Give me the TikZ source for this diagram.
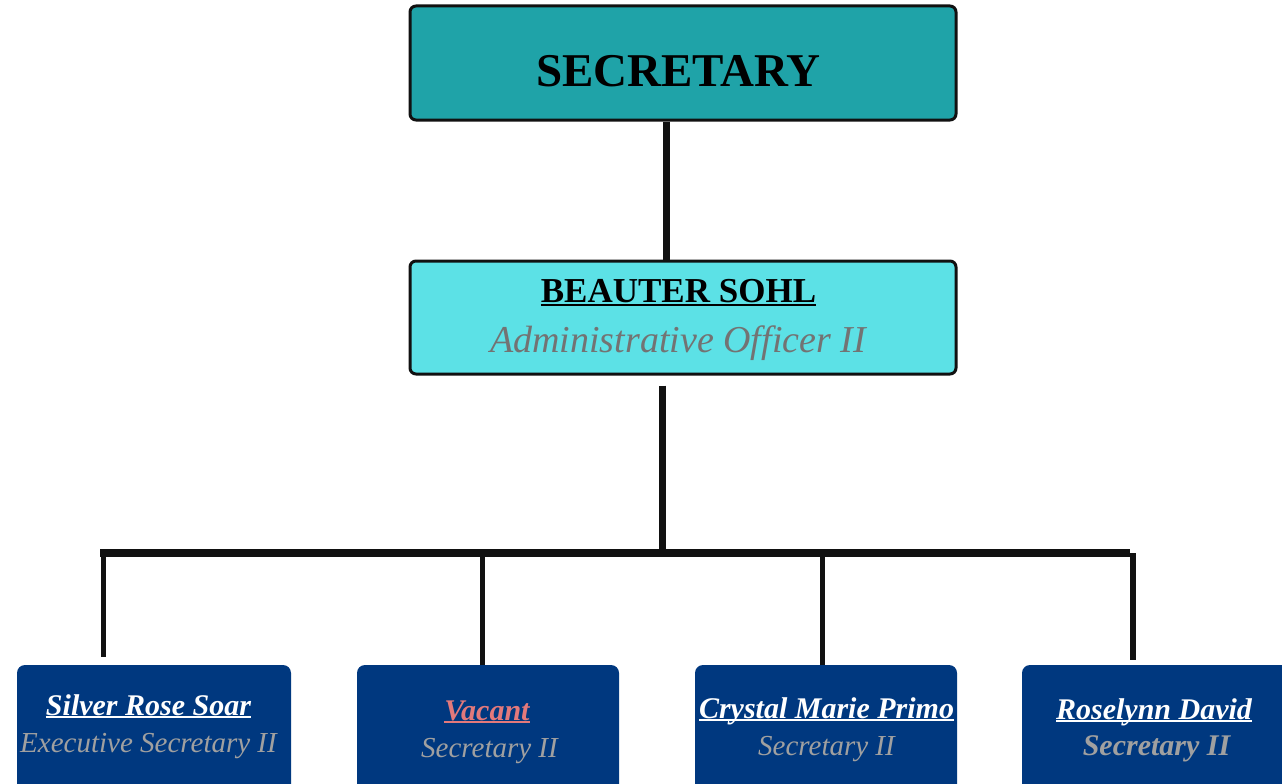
\documentclass[tikz,border=0pt]{standalone}
\usepackage{fontspec}
\setmainfont{Liberation Serif}
\definecolor{topteal}{HTML}{1FA3A8}
\definecolor{midcyan}{HTML}{5CE1E6}
\definecolor{navy}{HTML}{00387F}
\definecolor{midgray}{HTML}{737373}
\definecolor{lowgray}{HTML}{A0A0A0}
\definecolor{vacant}{HTML}{E3797B}
\definecolor{linec}{HTML}{111111}
\newcommand\myul[2][2.6pt]{\setbox0\hbox{#2}\rlap{\rule[-#1]{\wd0}{1.6pt}}\box0}
\tikzset{
  headbox/.style={draw=linec, line width=3pt, rounded corners=6pt, inner sep=0pt},
  staffbox/.style={fill=navy, rounded corners=8pt, inner sep=0pt, minimum height=135pt},
  txt/.style={inner sep=0pt, anchor=base},
  conn/.style={draw=linec, line width=#1},
}
\begin{document}
\begin{tikzpicture}[x=1pt,y=-1pt]
\useasboundingbox (0,0) rectangle (1282,784);
\clip (0,0) rectangle (1282,784);
\fill[white] (0,0) rectangle (1282,784);
% boxes
\node[headbox, fill=topteal, minimum width=546pt, minimum height=114pt] (top) at (683,63) {};
\node[headbox, fill=midcyan, minimum width=546pt, minimum height=113pt] (mid) at (683,317.5) {};
\node[staffbox, minimum width=274pt] (b1) at (154,732.5) {};
\node[staffbox, minimum width=262pt] (b2) at (488,732.5) {};
\node[staffbox, minimum width=262pt] (b3) at (826,732.5) {};
\node[staffbox, minimum width=268pt] (b4) at (1156,732.5) {};
% texts
\node[txt] (ttop) at (678.5,86) {\fontsize{47}{50}\selectfont\bfseries SECRETARY};
\node[txt] (tname) at (678.5,302) {\fontsize{35}{40}\selectfont\bfseries\myul[3.5pt]{BEAUTER SOHL}};
\node[txt, text=midgray] (trole) at (678,352) {\fontsize{38}{42}\selectfont\itshape Administrative Officer II};
\node[txt, text=white] (n1) at (148.5,715) {\fontsize{30}{32}\selectfont\bfseries\itshape\myul{Silver Rose Soar}};
\node[txt, text=lowgray] (r1) at (148.5,752) {\fontsize{29}{32}\selectfont\itshape Executive Secretary II};
\node[txt, text=vacant] (n2) at (487,720) {\fontsize{30}{32}\selectfont\bfseries\itshape\myul{Vacant}};
\node[txt, text=lowgray] (r2) at (489.5,757) {\fontsize{29}{32}\selectfont\itshape Secretary II};
\node[txt, text=white] (n3) at (826.5,718) {\fontsize{30}{32}\selectfont\bfseries\itshape\myul{Crystal Marie Primo}};
\node[txt, text=lowgray] (r3) at (826.5,755) {\fontsize{29}{32}\selectfont\itshape Secretary II};
\node[txt, text=white] (n4) at (1154,719) {\fontsize{30}{32}\selectfont\bfseries\itshape\myul{Roselynn David}};
\node[txt, text=lowgray] (r4) at (1156.5,755) {\fontsize{30}{32}\selectfont\bfseries\itshape Secretary II};
% connectors
\coordinate (barL) at (100,553);
\coordinate (barR) at (1130,553);
\coordinate (barM) at (662,553);
\draw[conn=7pt] ([xshift=-17pt]top.south) -- ([xshift=-17pt]mid.north);
\draw[conn=7pt] ([xshift=-21pt,yshift=-10pt]mid.south) -- ([yshift=-3pt]barM);
\draw[conn=8pt] (barL) -- (barR);
\draw[conn=5pt] ([xshift=3pt]barL) -- ([xshift=-51pt,yshift=8pt]b1.north);
\draw[conn=5pt] (barL -| b2.north) ++(-6,0) -- ([xshift=-6pt]b2.north);
\draw[conn=5pt] ([xshift=-4pt]barL -| b3.north) -- ([xshift=-4pt]b3.north);
\draw[conn=6pt] ([xshift=3pt]barR) -- ([xshift=-23pt,yshift=5pt]b4.north);
\end{tikzpicture}
\end{document}
